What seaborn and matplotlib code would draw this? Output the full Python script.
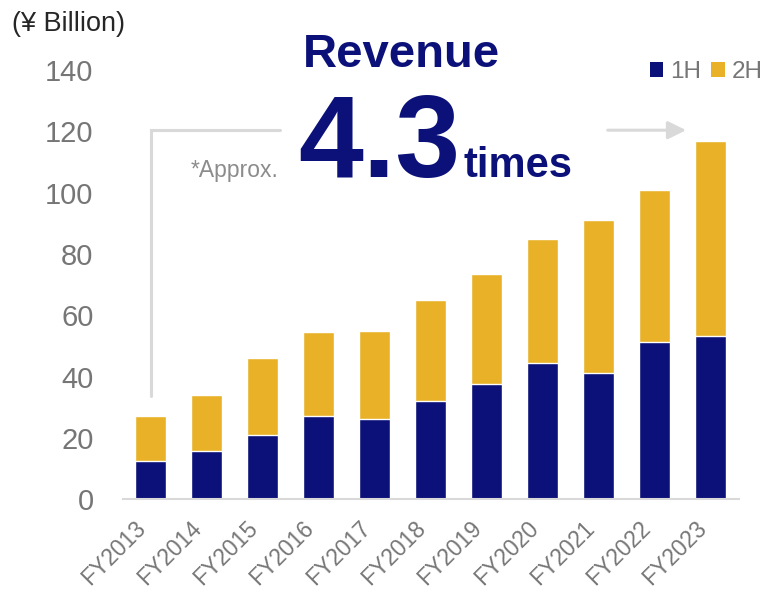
import matplotlib
matplotlib.use("Agg")
import matplotlib.pyplot as plt
from matplotlib.patches import Patch
import seaborn as sns
import pandas as pd

# Revenue by half-year (¥ billion)
years = ["FY2013", "FY2014", "FY2015", "FY2016", "FY2017", "FY2018",
         "FY2019", "FY2020", "FY2021", "FY2022", "FY2023"]
first_half = [12.4, 15.8, 21.1, 27.3, 26.1, 32.0, 37.5, 44.6, 41.3, 51.4, 53.3]
second_half = [14.8, 18.3, 25.0, 27.4, 28.8, 33.0, 36.0, 40.2, 49.7, 49.5, 63.7]
y_ticks = [0, 20, 40, 60, 80, 100, 120, 140]

NAVY = "#0b1178"
GOLD = "#e9b128"
TICK_GRAY = "#767676"
LINE_GRAY = "#d9d9d9"

df = pd.DataFrame({"year": years, "1H": first_half, "2H": second_half})
df["total"] = df["1H"] + df["2H"]

sns.set_theme(style="white")
plt.rcParams["font.family"] = ["Liberation Sans", "DejaVu Sans"]

W, H = 770, 591
fig = plt.figure(figsize=(W / 100, H / 100), dpi=100)
ax = fig.add_axes([122.7 / W, 1 - 499.3 / H, 616.1 / W, 429.2 / H])

# stacked bars: full-year total in gold, first half drawn over it in navy
sns.barplot(data=df, x="year", y="total", color=GOLD, width=0.555,
            saturation=1, ax=ax, order=years)
sns.barplot(data=df, x="year", y="1H", color=NAVY, width=0.555,
            saturation=1, ax=ax, order=years)

ax.set_xlim(-0.5, 10.5)
ax.set_ylim(0, 140)
ax.set_yticks(y_ticks)
ax.set_xlabel("")
ax.set_ylabel("")
for side in ("left", "right", "top"):
    ax.spines[side].set_visible(False)
ax.spines["bottom"].set_color(LINE_GRAY)
ax.spines["bottom"].set_linewidth(1.5)

ax.tick_params(axis="y", length=0, pad=21, labelsize=21, labelcolor=TICK_GRAY)
ax.tick_params(axis="x", length=0, pad=12.5, labelsize=16.5,
               labelcolor=TICK_GRAY)
for lbl in ax.get_xticklabels():
    lbl.set_rotation(45)
    lbl.set_ha("right")

# legend
handles = [Patch(facecolor=NAVY, edgecolor="none", label="1H"),
           Patch(facecolor=GOLD, edgecolor="none", label="2H")]
leg = fig.legend(handles=handles, loc="upper right", ncol=2, frameon=False,
                 fontsize=17.5, handlelength=0.55, handleheight=0.55,
                 handletextpad=0.3, columnspacing=0.4, borderpad=0,
                 borderaxespad=0,
                 bbox_to_anchor=(763 / W, 1 - 61 / H))
for t in leg.get_texts():
    t.set_color(TICK_GRAY)

# unit label
fig.text(12 / W, 1 - 31 / H, "(¥ Billion)", fontsize=19.5, color="#262626",
         va="baseline", ha="left")

# headline growth callout
fig.text(303 / W, 1 - 66.7 / H, "Revenue", fontsize=34, weight="bold",
         color=NAVY, va="baseline", ha="left")
fig.text(298 / W, 1 - 176.7 / H, "4.3", fontsize=84, weight="bold",
         color=NAVY, va="baseline", ha="left")
fig.text(463 / W, 1 - 176.7 / H, "times", fontsize=30, weight="bold",
         color=NAVY, va="baseline", ha="left")
fig.text(191 / W, 1 - 176.7 / H, "*Approx.", fontsize=16.5, color="#8c8c8c",
         va="baseline", ha="left")

# bracket from FY2013 to FY2023
y_bracket = 120.4
ax.plot([0, 0, 2.31], [33.7, y_bracket, y_bracket], color=LINE_GRAY,
        lw=2.2, clip_on=False, solid_joinstyle="miter")
ax.annotate("", xy=(9.56, y_bracket), xytext=(8.16, y_bracket),
            arrowprops=dict(arrowstyle="-|>,head_length=0.55,head_width=0.27",
                            mutation_scale=20, color=LINE_GRAY, lw=2.2,
                            shrinkA=0, shrinkB=0),
            annotation_clip=False)

fig.savefig("out.png", dpi=100)
